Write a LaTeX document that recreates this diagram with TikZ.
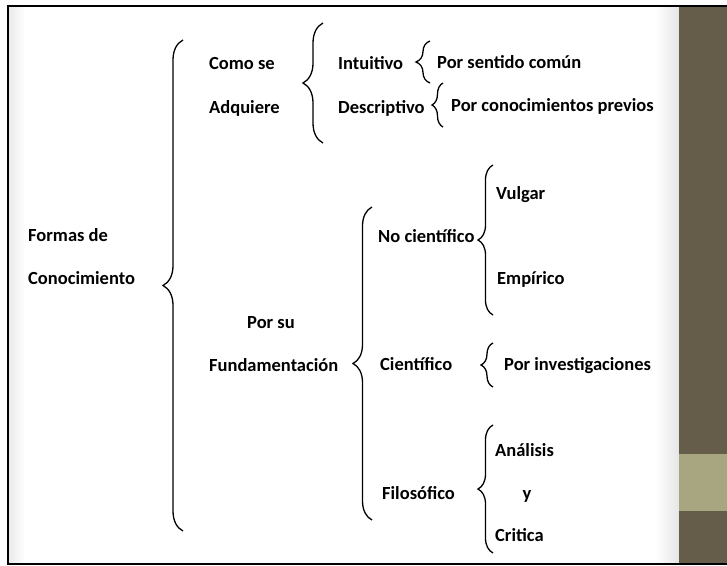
\documentclass[tikz,border=0pt]{standalone}
\usepackage{fontspec}
\setmainfont{Carlito}
\usetikzlibrary{positioning,decorations.pathreplacing}
\definecolor{slidebrown}{HTML}{655D4A}
\definecolor{slidetan}{HTML}{A8A680}

\begin{document}
\begin{tikzpicture}[x=1pt,y=-1pt,
  brace/.style={draw, line width=1.3pt, decorate,
    decoration={brace, amplitude=#1}},
  ]
  \useasboundingbox (0,0) rectangle (727,565);
  \fill[white] (0,0) rectangle (727,565);
  \shade[left color=black!8, right color=white] (9,7) rectangle (25,563);
  \shade[left color=white, right color=black!10] (655,7) rectangle (679,563);
  \fill[slidebrown] (679,7) rectangle (727,563);
  \fill[slidetan] (679,454) rectangle (727,511);
  \draw[line width=2.5pt] (727,6) -- (8,6) -- (8,564) -- (727,564);
  \begin{scope}[
    every node/.style={
      anchor=west,
      inner sep=0pt,
      yshift=-5pt,
      text height=1.5ex,
      text depth=0.9ex,
      font=\bfseries\fontsize{18.5}{22}\selectfont,
    },
    ]
    \node (formas)       at (28,235)  {Formas de};
    \node (conocimiento) at (28,278)  {Conocimiento};
    \node (como-se)      at (209,63)  {Como se};
    \node (adquiere)     at (209,107) {Adquiere};
    \node (intuitivo)    at (338,63)  {Intuitivo};
    \node (descriptivo)  at (338,107) {Descriptivo};
    \node (sentido)      at (437,62)  {Por sentido común};
    \node (previos)      at (451,105) {Por conocimientos previos};
    \node (por-su)       at (247,322) {Por su};
    \node (fundamento)   at (209,365) {Fundamentación};
    \node (no-cientif)   at (378,236) {No científico};
    \node (vulgar)       at (496,193) {Vulgar};
    \node (empirico)     at (497,278) {Empírico};
    \node (cientif)      at (380,364) {Científico};
    \node (investig)     at (504,364) {Por investigaciones};
    \node (filosof)      at (382,493) {Filosófico};
    \node (analisis)     at (495,450) {Análisis};
    \node[anchor=center] (y-conj) at (527,493) {y};
    \node (critica)      at (495,535) {Critica};
  \end{scope}
  \coordinate (formas-top)  at (183,40);
  \coordinate (formas-bot)  at (183,531);
  \coordinate (adquiere-top) at (323,23);
  \coordinate (adquiere-bot) at (323,143);
  \coordinate (intuitivo-top) at (430,41);
  \coordinate (intuitivo-bot) at (430,83);
  \coordinate (descript-top) at (443,83);
  \coordinate (descript-bot) at (443,127);
  \coordinate (fundamento-top) at (372,207);
  \coordinate (fundamento-bot) at (372,520);
  \coordinate (no-cientif-top) at (493,165);
  \coordinate (no-cientif-bot) at (493,315);
  \coordinate (cientif-top) at (493,343);
  \coordinate (cientif-bot) at (493,387);
  \coordinate (filosof-top) at (493,425);
  \coordinate (filosof-bot) at (493,553);
  \path[brace=20pt] (formas-bot) -- (formas-top);
  \path[brace=20pt] (adquiere-bot) -- (adquiere-top);
  \path[brace=14pt] (intuitivo-bot) -- (intuitivo-top);
  \path[brace=11pt] (descript-bot) -- (descript-top);
  \path[brace=19pt] (fundamento-bot) -- (fundamento-top);
  \path[brace=15pt] (no-cientif-bot) -- (no-cientif-top);
  \path[brace=12pt] (cientif-bot) -- (cientif-top);
  \path[brace=15pt] (filosof-bot) -- (filosof-top);
\end{tikzpicture}
\end{document}
